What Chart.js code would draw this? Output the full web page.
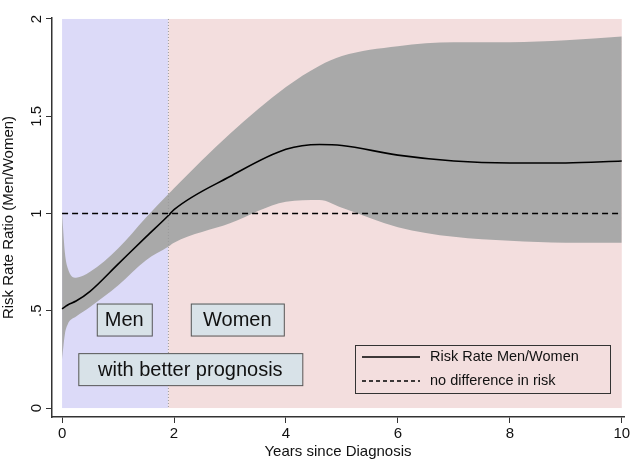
<!DOCTYPE html>
<html>
<head>
<meta charset="UTF-8">
<script src="https://cdn.jsdelivr.net/npm/chart.js"></script>
<style>
  body { margin: 0; background: #fff; }
  #wrap { width: 633px; height: 461px; }
</style>
</head>
<body>
<div id="wrap"><canvas id="c"></canvas></div>
<script>
const years = [0, 0.05, 0.1, 0.25, 0.5, 1, 1.5, 1.9, 2, 3, 4, 4.6, 5, 6, 7, 8, 9, 10];
const rateRatio = [0.51, 0.52, 0.53, 0.55, 0.6, 0.74, 0.88, 0.99, 1.02, 1.19, 1.33, 1.355, 1.35, 1.3, 1.27, 1.26, 1.26, 1.27];
const upperCI = [1.0, 0.8, 0.72, 0.67, 0.7, 0.82, 0.98, 1.1, 1.13, 1.41, 1.65, 1.76, 1.81, 1.86, 1.88, 1.88, 1.89, 1.91];
const lowerCI = [0.25, 0.38, 0.43, 0.47, 0.52, 0.63, 0.76, 0.83, 0.85, 0.95, 1.06, 1.07, 1.03, 0.93, 0.88, 0.86, 0.85, 0.85];
const yTicks = [0, 0.5, 1, 1.5, 2];
const yTickLabels = ["0", ".5", "1", "1.5", "2"];
const cutoff = 1.9;

const pts = arr => arr.map((v, i) => ({ x: years[i], y: v }));

const decor = {
  id: 'decor',
  beforeDatasetsDraw(chart) {
    const { ctx, scales: { x, y } } = chart;
    const top = y.getPixelForValue(2), bot = y.getPixelForValue(0);
    const x0 = x.getPixelForValue(0), xc = x.getPixelForValue(cutoff), x1 = x.getPixelForValue(10);
    ctx.save();
    ctx.fillStyle = '#dcdaf8';
    ctx.fillRect(x0, top, xc - x0, bot - top);
    ctx.fillStyle = '#f3dede';
    ctx.fillRect(xc, top, x1 - xc, bot - top);
    ctx.restore();
  },
  afterDatasetsDraw(chart) {
    const { ctx, scales: { x, y } } = chart;
    ctx.save();
    // dotted cutoff line
    ctx.strokeStyle = '#999';
    ctx.setLineDash([1, 2]);
    ctx.lineWidth = 1;
    const xc = x.getPixelForValue(cutoff);
    ctx.beginPath();
    ctx.moveTo(xc, y.getPixelForValue(2));
    ctx.lineTo(xc, y.getPixelForValue(0));
    ctx.stroke();
    ctx.setLineDash([]);

    // label boxes
    ctx.font = '20px Arial, "Liberation Sans"';
    ctx.textBaseline = 'middle';
    const box = (txt, xv, yv, w, h) => {
      const px = x.getPixelForValue(xv), py = y.getPixelForValue(yv);
      ctx.fillStyle = '#d8e2e8';
      ctx.fillRect(px, py - h / 2, w, h);
      ctx.strokeStyle = '#555';
      ctx.strokeRect(px + 0.5, py - h / 2 + 0.5, w, h);
      ctx.fillStyle = '#111';
      ctx.textAlign = 'center';
      ctx.fillText(txt, px + w / 2, py + 1);
    };
    box('Men', 0.62, 0.455, 55, 32);
    box('Women', 2.3, 0.455, 93, 32);
    box('with better prognosis', 0.29, 0.2, 224, 32);

    // legend
    const lx = 355, ly = 345, lw = 255, lh = 48;
    ctx.fillStyle = '#f3dede';
    ctx.fillRect(lx, ly, lw, lh);
    ctx.strokeStyle = '#333';
    ctx.strokeRect(lx + 0.5, ly + 0.5, lw, lh);
    ctx.strokeStyle = '#000';
    ctx.lineWidth = 1.3;
    ctx.beginPath(); ctx.moveTo(362, 357); ctx.lineTo(420, 357); ctx.stroke();
    ctx.setLineDash([4, 3]);
    ctx.beginPath(); ctx.moveTo(362, 381); ctx.lineTo(420, 381); ctx.stroke();
    ctx.setLineDash([]);
    ctx.fillStyle = '#111';
    ctx.textAlign = 'left';
    ctx.font = '14.5px Arial, "Liberation Sans"';
    ctx.fillText('Risk Rate Men/Women', 430, 357);
    ctx.fillText('no difference in risk', 430, 381);

    // rotated y tick labels
    ctx.font = '15px Arial, "Liberation Sans"';
    ctx.textAlign = 'center';
    yTicks.forEach((t, i) => {
      ctx.save();
      ctx.translate(37, y.getPixelForValue(t));
      ctx.rotate(-Math.PI / 2);
      ctx.fillText(yTickLabels[i], 0, 0);
      ctx.restore();
    });
    ctx.restore();
  }
};

new Chart(document.getElementById('c'), {
  type: 'line',
  data: {
    datasets: [
      { data: pts(upperCI), order: 5, borderWidth: 0, pointRadius: 0, fill: '+1', backgroundColor: '#a9a9a9', cubicInterpolationMode: 'monotone' },
      { data: pts(lowerCI), order: 4, borderWidth: 0, pointRadius: 0, fill: false, cubicInterpolationMode: 'monotone' },
      { data: pts(rateRatio), order: 1, borderColor: '#000', borderWidth: 1.6, pointRadius: 0, fill: false, cubicInterpolationMode: 'monotone' },
      { data: [{ x: 0, y: 1 }, { x: 10, y: 1 }], order: 0, borderColor: '#000', borderWidth: 1.3, borderDash: [6, 4], pointRadius: 0, fill: false }
    ]
  },
  options: {
    responsive: true,
    maintainAspectRatio: false,
    animation: false,
    layout: { padding: { top: 18, right: 9 } },
    plugins: { legend: { display: false }, tooltip: { enabled: false } },
    scales: {
      x: {
        type: 'linear', min: -0.18, max: 10.04,
        afterBuildTicks(s) { s.ticks = [0, 2, 4, 6, 8, 10].map(v => ({ value: v })); },
        grid: { drawOnChartArea: false, tickLength: 6, color: '#333' },
        border: { color: '#333', width: 1.5 },
        ticks: { color: '#111', font: { size: 15, family: 'Arial' }, maxRotation: 0, padding: 2 },
        title: { display: true, text: 'Years since Diagnosis', color: '#111', font: { size: 15, family: 'Arial' }, padding: { top: -2, bottom: 0 } }
      },
      y: {
        min: -0.046, max: 2.005,
        afterBuildTicks(s) { s.ticks = yTicks.map(v => ({ value: v })); },
        afterFit(s) { s.width = 52; },
        grid: { drawOnChartArea: false, tickLength: 6, color: '#333' },
        border: { color: '#333', width: 1.5 },
        ticks: { display: false },
        title: { display: true, text: 'Risk Rate Ratio (Men/Women)', color: '#111', font: { size: 15, family: 'Arial' }, padding: 0 }
      }
    }
  },
  plugins: [decor]
});
</script>
</body>
</html>
